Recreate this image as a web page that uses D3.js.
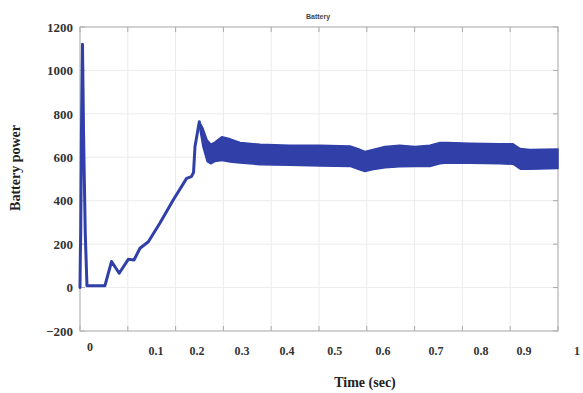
<!DOCTYPE html>
<html>
<head>
<meta charset="utf-8">
<script src="https://cdn.jsdelivr.net/npm/d3@7"></script>
<style>
  html, body { margin: 0; padding: 0; background: #fff; }
  svg { display: block; }
</style>
</head>
<body>
<svg id="chart" width="583" height="393"></svg>
<script>
// ---------- data ----------
const chartTitle = "Battery";
const xTitle = "Time (sec)";
const yTitle = "Battery power";

const xTicks = [0, 0.1, 0.2, 0.3, 0.4, 0.5, 0.6, 0.7, 0.8, 0.9, 1];
const yTicks = [-200, 0, 200, 400, 600, 800, 1000, 1200];

// x tick labels as printed and where they sit along the time axis (sec)
const xLabelText = ["0", "0.1", "0.2", "0.3", "0.4", "0.5", "0.6", "0.7", "0.8", "0.9", "1"];
const xLabelAt   = [0.021, 0.159, 0.245, 0.339, 0.433, 0.533, 0.634, 0.745, 0.839, 0.929, 1.040];

// start-up transient (single trace)
const transientT = [0, 0.0008, 0.0015, 0.003, 0.0052, 0.0075, 0.011, 0.0146, 0.052, 0.066, 0.082, 0.101, 0.113, 0.1255, 0.143, 0.167, 0.195, 0.223, 0.233, 0.2375, 0.2406, 0.2496];
const transientP = [0, 160, 250, 700, 1120, 700, 250, 8, 8, 120, 66, 130, 127, 181, 211, 296, 403, 503, 511, 530, 650, 764];

// steady-state ripple envelope (upper / lower bounds of the oscillation)
const bandT     = [0.2496, 0.257, 0.266, 0.274, 0.282, 0.297, 0.314, 0.335, 0.377, 0.439, 0.502, 0.565, 0.582, 0.596, 0.611, 0.638, 0.669, 0.701, 0.732, 0.753, 0.768, 0.816, 0.879, 0.906, 0.921, 0.941, 1.0];
const bandUpper = [764, 735, 680, 660, 670, 695, 685, 668, 660, 655, 655, 652, 640, 627, 635, 650, 655, 650, 655, 668, 668, 665, 662, 662, 640, 636, 638];
const bandLower = [745, 650, 580, 570, 580, 585, 578, 574, 566, 563, 560, 558, 545, 534, 542, 552, 556, 557, 558, 570, 574, 572, 570, 568, 545, 545, 548];

// ---------- drawing ----------
const svg = d3.select("#chart");
const L = 80, R = 558, T = 27, B = 331;
const x = d3.scaleLinear().domain([0, 1]).range([L, R]);
const y = d3.scaleLinear().domain([-200, 1200]).range([B, T]);
const blue = "#3040a8";
const serif = "'Liberation Serif', 'Times New Roman', serif";

// grid
const g = svg.append("g");
g.selectAll("line.vg").data(xTicks.slice(1, -1)).join("line")
  .attr("x1", d => x(d)).attr("x2", d => x(d)).attr("y1", T).attr("y2", B)
  .attr("stroke", "#ececec").attr("stroke-width", 1);
g.selectAll("line.hg").data(yTicks.slice(1, -1)).join("line")
  .attr("x1", L).attr("x2", R).attr("y1", d => y(d)).attr("y2", d => y(d))
  .attr("stroke", "#ececec").attr("stroke-width", 1);

// inward tick marks on all four sides
const tickLen = 5, tickCol = "#a8a8a8";
xTicks.forEach(d => {
  svg.append("line").attr("x1", x(d)).attr("x2", x(d)).attr("y1", B).attr("y2", B - tickLen).attr("stroke", tickCol);
  svg.append("line").attr("x1", x(d)).attr("x2", x(d)).attr("y1", T).attr("y2", T + tickLen).attr("stroke", tickCol);
});
yTicks.forEach(d => {
  svg.append("line").attr("x1", L).attr("x2", L + tickLen).attr("y1", y(d)).attr("y2", y(d)).attr("stroke", tickCol);
  svg.append("line").attr("x1", R).attr("x2", R - tickLen).attr("y1", y(d)).attr("y2", y(d)).attr("stroke", tickCol);
});

// frame
svg.append("rect").attr("x", L).attr("y", T).attr("width", R - L).attr("height", B - T)
  .attr("fill", "none").attr("stroke", "#b4b4b4").attr("stroke-width", 1.2);

// ripple band
const band = bandT.map((t, i) => ({ t, u: bandUpper[i], l: bandLower[i] }));
svg.append("path").datum(band)
  .attr("d", d3.area().x(d => x(d.t)).y0(d => y(d.l)).y1(d => y(d.u)))
  .attr("fill", blue).attr("stroke", blue).attr("stroke-width", 1.5).attr("stroke-linejoin", "round");

// transient trace
const tr = transientT.map((t, i) => ({ t, p: transientP[i] }));
svg.append("path").datum(tr)
  .attr("d", d3.line().x(d => x(d.t)).y(d => y(d.p)))
  .attr("fill", "none").attr("stroke", blue).attr("stroke-width", 3)
  .attr("stroke-linejoin", "round").attr("stroke-linecap", "round");

// y tick labels
const yAxis = d3.axisLeft(y).tickValues(yTicks).tickSize(0).tickPadding(7).tickFormat(d3.format("d"));
const ya = svg.append("g").attr("transform", `translate(${L},0)`).call(yAxis);
ya.select(".domain").remove();
ya.selectAll("text").attr("font-family", serif).attr("font-size", 13).attr("font-weight", "bold").attr("fill", "#333");

// x tick labels
svg.selectAll("text.xl").data(xLabelText).join("text")
  .attr("x", (d, i) => x(xLabelAt[i]))
  .attr("y", (d, i) => i === 0 ? 351 : 355)
  .attr("text-anchor", "middle")
  .attr("font-family", serif).attr("font-size", 12).attr("font-weight", "bold").attr("fill", "#333")
  .text(d => d);

// titles
svg.append("text").attr("x", 318).attr("y", 19).attr("text-anchor", "middle")
  .attr("font-family", "'Liberation Sans', Arial, sans-serif").attr("font-size", 7).attr("font-weight", "bold")
  .attr("fill", "#444").text(chartTitle);
svg.append("text").attr("x", 365).attr("y", 387).attr("text-anchor", "middle")
  .attr("font-family", serif).attr("font-size", 14).attr("font-weight", "bold").attr("fill", "#222").text(xTitle);
svg.append("text").attr("transform", "translate(20,168) rotate(-90)").attr("text-anchor", "middle")
  .attr("font-family", serif).attr("font-size", 14).attr("font-weight", "bold").attr("fill", "#222").text(yTitle);
</script>
</body>
</html>
